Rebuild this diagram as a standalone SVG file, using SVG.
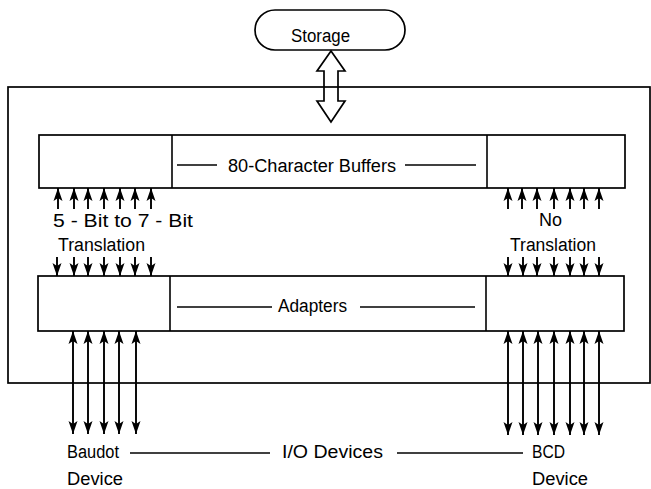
<svg xmlns="http://www.w3.org/2000/svg" width="651" height="489" viewBox="0 0 651 489">
<style>
.box{fill:none;stroke:#000;stroke-width:1.7}
.ln{stroke:#000;stroke-width:1.6;fill:none}
.ar{stroke:#000;stroke-width:1.9;fill:none}
.t{font-family:"Liberation Sans",Arial,sans-serif;font-size:18px;fill:#000}
</style>
<defs>
<marker id="ah" markerUnits="userSpaceOnUse" markerWidth="16" markerHeight="12" viewBox="0 -6 16 12" refX="13" refY="0" orient="auto-start-reverse">
<path d="M0,-4.5 L13,0 L0,4.5 L3,0 z" fill="#000"/>
</marker>
</defs>
<rect width="651" height="489" fill="#fff"/>
<g id="frame"><rect class="box" x="8" y="87" width="642" height="296"/></g>
<g id="storage">
<rect class="box" x="255" y="10" width="150" height="40" rx="20"/>
<text class="t" x="291" y="42" textLength="59" lengthAdjust="spacingAndGlyphs">Storage</text>
</g>
<g id="buffers">
<rect class="box" x="39" y="135" width="586" height="53"/>
<line class="ln" x1="172" y1="135" x2="172" y2="188"/>
<line class="ln" x1="487" y1="135" x2="487" y2="188"/>
<line class="ln" x1="177" y1="165" x2="217" y2="165"/>
<line class="ln" x1="405" y1="165" x2="476" y2="165"/>
<text class="t" x="228" y="172" textLength="168" lengthAdjust="spacingAndGlyphs">80-Character Buffers</text>
</g>
<g id="adapters">
<rect class="box" x="38" y="276" width="586" height="55"/>
<line class="ln" x1="170" y1="276" x2="170" y2="331"/>
<line class="ln" x1="486" y1="276" x2="486" y2="331"/>
<line class="ln" x1="177" y1="307" x2="272" y2="307"/>
<line class="ln" x1="360" y1="307" x2="475" y2="307"/>
<text class="t" x="278" y="312" textLength="69" lengthAdjust="spacingAndGlyphs">Adapters</text>
</g>
<g id="labels">
<text class="t" x="53" y="227" textLength="140" lengthAdjust="spacingAndGlyphs">5 - Bit to 7 - Bit</text>
<text class="t" x="58" y="251" textLength="87" lengthAdjust="spacingAndGlyphs">Translation</text>
<text class="t" x="539" y="226" textLength="23" lengthAdjust="spacingAndGlyphs">No</text>
<text class="t" x="510" y="251" textLength="86" lengthAdjust="spacingAndGlyphs">Translation</text>
<text class="t" x="67" y="458" textLength="52" lengthAdjust="spacingAndGlyphs">Baudot</text>
<text class="t" x="67" y="485" textLength="56" lengthAdjust="spacingAndGlyphs">Device</text>
<text class="t" x="282" y="458" textLength="101" lengthAdjust="spacingAndGlyphs">I/O Devices</text>
<text class="t" x="532" y="458" textLength="33" lengthAdjust="spacingAndGlyphs">BCD</text>
<text class="t" x="532" y="485" textLength="56" lengthAdjust="spacingAndGlyphs">Device</text>
<line class="ln" x1="130" y1="453" x2="270" y2="453"/>
<line class="ln" x1="397" y1="453" x2="523" y2="453"/>
</g>
<g id="connectors">
<polygon class="box" points="331,51 317,71 324,71 324,101 317,101 331,122 345,101 338,101 338,71 345,71"/>
<g marker-end="url(#ah)">
<line class="ar" x1="58" y1="209" x2="58" y2="188"/>
<line class="ar" x1="74" y1="209" x2="74" y2="188"/>
<line class="ar" x1="88" y1="209" x2="88" y2="188"/>
<line class="ar" x1="104" y1="209" x2="104" y2="188"/>
<line class="ar" x1="120" y1="209" x2="120" y2="188"/>
<line class="ar" x1="135" y1="209" x2="135" y2="188"/>
<line class="ar" x1="151" y1="209" x2="151" y2="188"/>
<line class="ar" x1="508" y1="209" x2="508" y2="188"/>
<line class="ar" x1="522" y1="209" x2="522" y2="188"/>
<line class="ar" x1="537" y1="209" x2="537" y2="188"/>
<line class="ar" x1="554" y1="209" x2="554" y2="188"/>
<line class="ar" x1="570" y1="209" x2="570" y2="188"/>
<line class="ar" x1="584" y1="209" x2="584" y2="188"/>
<line class="ar" x1="599" y1="209" x2="599" y2="188"/>
<line class="ar" x1="57" y1="257" x2="57" y2="276"/>
<line class="ar" x1="74" y1="257" x2="74" y2="276"/>
<line class="ar" x1="88" y1="257" x2="88" y2="276"/>
<line class="ar" x1="104" y1="257" x2="104" y2="276"/>
<line class="ar" x1="120" y1="257" x2="120" y2="276"/>
<line class="ar" x1="135" y1="257" x2="135" y2="276"/>
<line class="ar" x1="151" y1="257" x2="151" y2="276"/>
<line class="ar" x1="508" y1="257" x2="508" y2="276"/>
<line class="ar" x1="523" y1="257" x2="523" y2="276"/>
<line class="ar" x1="537" y1="257" x2="537" y2="276"/>
<line class="ar" x1="554" y1="257" x2="554" y2="276"/>
<line class="ar" x1="570" y1="257" x2="570" y2="276"/>
<line class="ar" x1="584" y1="257" x2="584" y2="276"/>
<line class="ar" x1="599" y1="257" x2="599" y2="276"/>
</g>
<g marker-start="url(#ah)" marker-end="url(#ah)">
<line class="ar" x1="73" y1="331" x2="73" y2="434"/>
<line class="ar" x1="88" y1="331" x2="88" y2="434"/>
<line class="ar" x1="104" y1="331" x2="104" y2="434"/>
<line class="ar" x1="119" y1="331" x2="119" y2="434"/>
<line class="ar" x1="136" y1="331" x2="136" y2="434"/>
<line class="ar" x1="508" y1="331" x2="508" y2="435"/>
<line class="ar" x1="523" y1="331" x2="523" y2="435"/>
<line class="ar" x1="538" y1="331" x2="538" y2="435"/>
<line class="ar" x1="554" y1="331" x2="554" y2="435"/>
<line class="ar" x1="570" y1="331" x2="570" y2="435"/>
<line class="ar" x1="584" y1="331" x2="584" y2="435"/>
<line class="ar" x1="599" y1="331" x2="599" y2="435"/>
</g>
</g>
</svg>
